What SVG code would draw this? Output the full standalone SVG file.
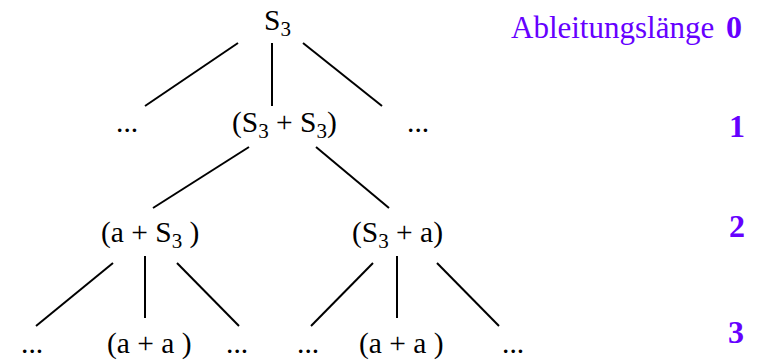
<svg xmlns="http://www.w3.org/2000/svg" width="760" height="360" viewBox="0 0 760 360">
<style>
.t{font-family:"Liberation Serif","Times New Roman",serif;font-size:29.5px;fill:#000}
.sub{font-size:21px}
.lbl{font-family:"Liberation Serif","Times New Roman",serif;font-size:31px;fill:#6600ff}
.num{font-family:"Liberation Serif","Times New Roman",serif;font-size:32px;font-weight:bold;fill:#6600ff}
.e{stroke:#000;stroke-width:2;fill:none}
</style>
<rect width="760" height="360" fill="#fff"/>
<g id="connectors">
<line class="e" x1="238" y1="43" x2="145" y2="106"/>
<line class="e" x1="272" y1="43" x2="272" y2="106"/>
<line class="e" x1="303" y1="43" x2="382" y2="106"/>
<line class="e" x1="249" y1="147" x2="153" y2="208"/>
<line class="e" x1="316" y1="147" x2="389" y2="208"/>
<line class="e" x1="113" y1="263" x2="36" y2="326"/>
<line class="e" x1="145" y1="256" x2="145" y2="318"/>
<line class="e" x1="177" y1="263" x2="239" y2="326"/>
<line class="e" x1="373" y1="263" x2="311" y2="326"/>
<line class="e" x1="397" y1="256" x2="397" y2="318"/>
<line class="e" x1="437" y1="263" x2="499" y2="326"/>
</g>
<g id="n0"><text class="t" x="264" y="30">S<tspan class="sub" dy="6">3</tspan></text></g>
<g id="n1a"><text class="t" x="116" y="132">...</text></g>
<g id="n1b"><text class="t" x="232" y="132">(S<tspan class="sub" dy="6">3</tspan><tspan dy="-6"> + S</tspan><tspan class="sub" dy="6">3</tspan><tspan dy="-6">)</tspan></text></g>
<g id="n1c"><text class="t" x="407" y="132">...</text></g>
<g id="n2a"><text class="t" x="101" y="242">(a + S<tspan class="sub" dy="6">3</tspan><tspan dy="-6"> )</tspan></text></g>
<g id="n2b"><text class="t" x="352" y="242">(S<tspan class="sub" dy="6">3</tspan><tspan dy="-6"> + a)</tspan></text></g>
<g id="n3a"><text class="t" x="21" y="353">...</text></g>
<g id="n3b"><text class="t" x="107" y="353">(a + a )</text></g>
<g id="n3c"><text class="t" x="226" y="353">...</text></g>
<g id="n3d"><text class="t" x="297" y="353">...</text></g>
<g id="n3e"><text class="t" x="359" y="353">(a + a )</text></g>
<g id="n3f"><text class="t" x="502" y="353">...</text></g>
<g id="legend">
<text class="lbl" x="511" y="38">Ableitungslänge</text>
<text class="num" x="726" y="38">0</text>
<text class="num" x="729" y="137">1</text>
<text class="num" x="729" y="237">2</text>
<text class="num" x="728" y="343">3</text>
</g>
</svg>
